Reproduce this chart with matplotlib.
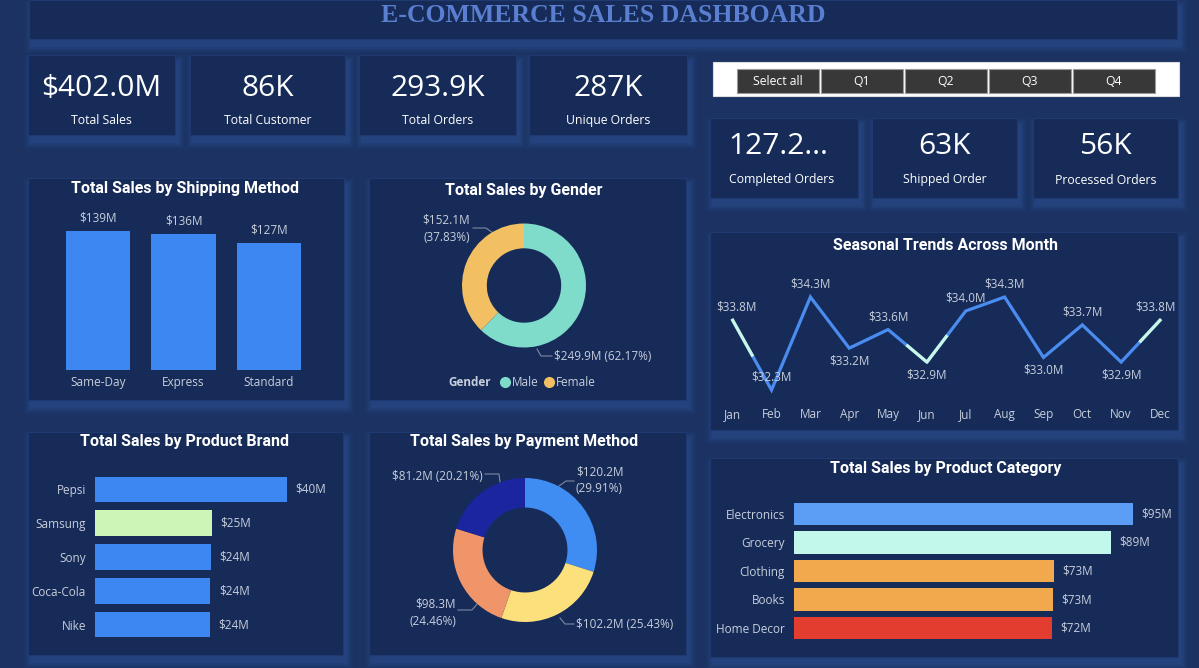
import numpy as np
import matplotlib
matplotlib.use("Agg")
import matplotlib.pyplot as plt
from matplotlib.patches import Rectangle

W, H = 1199, 668
plt.rcParams['font.family'] = ['Open Sans', 'DejaVu Sans']

# ---------------- data ----------------
dashboard_title = "E-COMMERCE SALES DASHBOARD"
kpi_top_values = ["$402.0M", "86K", "293.9K", "287K"]
kpi_top_labels = ["Total Sales", "Total Customer", "Total Orders", "Unique Orders"]
kpi_side_values = ["127.2...", "63K", "56K"]
kpi_side_labels = ["Completed Orders", "Shipped Order", "Processed Orders"]
slicer_options = ["Select all", "Q1", "Q2", "Q3", "Q4"]

shipping_methods = ["Same-Day", "Express", "Standard"]
shipping_sales = [139, 136, 127]

genders = ["Male", "Female"]
gender_sales = [249.93, 152.08]

brands = ["Pepsi", "Samsung", "Sony", "Coca-Cola", "Nike"]
brand_sales = [40.4, 24.6, 24.4, 24.3, 24.2]

payment_sales = [120.24, 102.22, 98.33, 81.24]

months = ["Jan", "Feb", "Mar", "Apr", "May", "Jun",
          "Jul", "Aug", "Sep", "Oct", "Nov", "Dec"]
month_sales = [33.8, 32.3, 34.3, 33.2, 33.6, 32.9, 34.0, 34.3, 33.0, 33.7, 32.9, 33.8]
highlight_months = ["Jan", "Jun", "Dec"]

categories = ["Electronics", "Grocery", "Clothing", "Books", "Home Decor"]
category_sales = [95.2, 89.0, 73.1, 72.8, 72.4]

# ---------------- style ----------------
BG = '#1b3262'
PANEL = '#162b58'
GLOW = '#2c5096'
LBL = '#c8cfdc'
BLUE = '#3d87f2'
BRAND_COLORS = [BLUE, '#cdf5b8', BLUE, BLUE, BLUE]
CAT_COLORS = ['#5c9ef5', '#c2f7ec', '#f2a94e', '#f2a94e', '#e23d2f']
GENDER_COLORS = ['#7fdccb', '#f2c062']
PAY_COLORS = ['#3f8cf2', '#fbe07c', '#f0956a', '#1b25a0']
LINE_BLUE = '#4a8cf0'
MINT = '#c9f7e4'
LEADER = '#7f8aa3'
TITLE_FONT = ['Roboto', 'DejaVu Sans']

fig = plt.figure(figsize=(W / 100, H / 100), dpi=100, facecolor=BG)
bg = fig.add_axes([0, 0, 1, 1])
bg.set_xlim(0, W)
bg.set_ylim(H, 0)
bg.axis('off')


def panel(x0, y0, x1, y1, glow=True):
    if glow:
        for pad, a in [(7, 0.10), (5, 0.15), (3, 0.22), (1, 0.3)]:
            bg.add_patch(Rectangle((x0 - pad + 3, y0 - pad + 7), x1 - x0 + 2 * pad,
                                   y1 - y0 + 2 * pad, facecolor=GLOW, alpha=a,
                                   edgecolor='none'))
    bg.add_patch(Rectangle((x0, y0), x1 - x0, y1 - y0, facecolor=PANEL,
                           edgecolor='#1f3a70', lw=0.8))


def px_axes(x0, y0, x1, y1):
    ax = fig.add_axes([x0 / W, 1 - y1 / H, (x1 - x0) / W, (y1 - y0) / H])
    ax.set_facecolor('none')
    for s in ax.spines.values():
        s.set_visible(False)
    return ax


def title(x, y, s):
    bg.text(x, y, s, ha='center', va='center', color='white', fontsize=11.5,
            fontweight='bold', family=TITLE_FONT)


# ---------------- title bar ----------------
panel(29, 0, 1177, 39)
bg.text(603, 15.5, dashboard_title, ha='center', va='center', color='#5b7fd0',
        fontsize=18.5, fontweight='bold', family=['Liberation Serif', 'DejaVu Serif'])

# ---------------- KPI cards ----------------
top_cards = [(28, 55, 175, 135), (190, 55, 345, 135), (359, 55, 516, 135), (529, 55, 687, 135)]
for (x0, y0, x1, y1), v, l in zip(top_cards, kpi_top_values, kpi_top_labels):
    panel(x0, y0, x1, y1)
    cx = (x0 + x1) / 2
    bg.text(cx, 88, v, ha='center', va='center', color='white', fontsize=21.5)
    bg.text(cx, 120.5, l, ha='center', va='center', color='white', fontsize=8.8)

side_cards = [(710, 118, 858, 198), (872, 118, 1017, 198), (1033, 118, 1178, 198)]
for i, ((x0, y0, x1, y1), v, l) in enumerate(zip(side_cards, kpi_side_values, kpi_side_labels)):
    panel(x0, y0, x1, y1)
    cx = (x0 + x1) / 2
    bg.text(cx - (6 if i == 0 else 0), 147, v, ha='center', va='center', color='white', fontsize=21.5)
    bg.text(cx - (2 if i == 0 else 0), 180, l, ha='center', va='center', color='white', fontsize=8.8)

# ---------------- slicer ----------------
bg.add_patch(Rectangle((712.7, 61.7), 466.6, 34, facecolor='white', edgecolor='#dddddd', lw=0.8))
btn_x0, btn_w, btn_gap = 737, 81.5, 2.5
for i, opt in enumerate(slicer_options):
    bx = btn_x0 + i * (btn_w + btn_gap)
    bg.add_patch(Rectangle((bx, 69), btn_w, 23.7, facecolor='#383838', edgecolor='#9a9a9a', lw=0.8))
    bg.text(bx + btn_w / 2, 81.5, opt, ha='center', va='center', color='white', fontsize=8.8)

# ---------------- chart panels ----------------
panel(28, 178, 344, 400)
panel(369, 178, 686, 400)
panel(28, 432, 343, 655)
panel(369, 432, 686, 655)
panel(710, 232, 1178, 430)
panel(710, 458, 1178, 657)

# Shipping method
title(185.3, 189, "Total Sales by Shipping Method")
ax = px_axes(55.25, 200, 311.75, 370)
xs = np.arange(len(shipping_methods))
ax.bar(xs, shipping_sales, width=0.75, color=BLUE)
ax.set_xlim(-0.5, len(xs) - 0.5)
ax.set_ylim(0, 170)
ax.set_yticks([])
ax.set_xticks(xs, shipping_methods)
ax.tick_params(axis='x', length=0, pad=4, labelcolor=LBL, labelsize=8.5)
for xi, v in zip(xs, shipping_sales):
    ax.annotate(f"${v}M", (xi, v), xytext=(0, 9.2), textcoords='offset points',
                ha='center', va='center', color=LBL, fontsize=8.5)

# Gender donut
title(524, 190.5, "Total Sales by Gender")
ax = px_axes(462, 223.5, 586, 347.5)
ax.pie(gender_sales, colors=GENDER_COLORS, startangle=90, counterclock=False,
       wedgeprops=dict(width=0.40, edgecolor='none'))
ax.set_xlim(-1, 1)
ax.set_ylim(-1, 1)
ax.set_aspect('equal')
g_total = sum(gender_sales)
g_pct = [v / g_total * 100 for v in gender_sales]
# Female label (two lines)
bg.text(446.5, 220, f"${gender_sales[1]:.1f}M", ha='center', va='center', color=LBL, fontsize=8.5)
bg.text(446.5, 237.5, f"({g_pct[1]:.2f}%)", ha='center', va='center', color=LBL, fontsize=8.5)
bg.plot([473, 486, 493], [228, 228, 233], color=LEADER, lw=0.8)
# Male label
bg.text(554, 356, f"${gender_sales[0]:.1f}M ({g_pct[0]:.2f}%)", ha='left', va='center',
        color=LBL, fontsize=8.5)
bg.plot([552, 541, 537], [356, 356, 349], color=LEADER, lw=0.8)
# legend
bg.text(448, 382, "Gender", ha='left', va='center', color=LBL, fontsize=8.5, fontweight='bold')
bg.plot([505], [382], 'o', ms=7, color=GENDER_COLORS[0])
bg.text(511.5, 382, genders[0], ha='left', va='center', color=LBL, fontsize=8.5)
bg.plot([549], [382], 'o', ms=7, color=GENDER_COLORS[1])
bg.text(555.5, 382, genders[1], ha='left', va='center', color=LBL, fontsize=8.5)

# Product brand
title(185, 441.5, "Total Sales by Product Brand")
ax = px_axes(95, 472.6, 335, 641.4)
ys = np.arange(len(brands))
ax.barh(ys, brand_sales, height=0.76, color=BRAND_COLORS)
ax.set_ylim(len(brands) - 0.5, -0.5)
ax.set_xlim(0, 50.5)
ax.set_xticks([])
ax.set_yticks(ys, brands)
ax.tick_params(axis='y', length=0, pad=6.5, labelcolor=LBL, labelsize=8.5)
for yi, v in zip(ys, brand_sales):
    ax.annotate(f"${v:.0f}M", (v, yi), xytext=(6, 0), textcoords='offset points',
                ha='left', va='center', color=LBL, fontsize=8.5)

# Payment donut
title(524, 441.5, "Total Sales by Payment Method")
ax = px_axes(453, 478, 597, 622)
ax.pie(payment_sales, colors=PAY_COLORS, startangle=90, counterclock=False,
       wedgeprops=dict(width=0.41, edgecolor='none'))
ax.set_xlim(-1, 1)
ax.set_ylim(-1, 1)
ax.set_aspect('equal')
p_total = sum(payment_sales)
p_txt = [(f"${v:.1f}M", f"({v / p_total * 100:.2f}%)") for v in payment_sales]
bg.text(576, 472, p_txt[0][0], ha='left', va='center', color=LBL, fontsize=8.5)
bg.text(576, 488.5, p_txt[0][1], ha='left', va='center', color=LBL, fontsize=8.5)
bg.plot([574, 566, 559], [481, 481, 486], color=LEADER, lw=0.8)
bg.text(576, 624.5, p_txt[1][0] + " " + p_txt[1][1], ha='left', va='center', color=LBL, fontsize=8.5)
bg.plot([574, 565, 560], [624, 624, 618], color=LEADER, lw=0.8)
bg.text(456, 604, p_txt[2][0], ha='right', va='center', color=LBL, fontsize=8.5)
bg.text(456, 621.5, p_txt[2][1], ha='right', va='center', color=LBL, fontsize=8.5)
bg.plot([458, 472, 478], [610, 610, 603], color=LEADER, lw=0.8)
bg.text(483, 477, p_txt[3][0] + " " + p_txt[3][1], ha='right', va='center', color=LBL, fontsize=8.5)
bg.plot([485, 499, 500], [474, 474, 482], color=LEADER, lw=0.8)

# Seasonal trend line
title(945.5, 245, "Seasonal Trends Across Month")
ax = px_axes(732.7, 262, 1160, 400)
xm = np.arange(len(months))
ys_m = np.array(month_sales)
ax.plot(xm, ys_m, color=LINE_BLUE, lw=2.3, clip_on=False, zorder=2,
        solid_joinstyle='miter')
for m in highlight_months:
    i = months.index(m)
    sx, sy = [], []
    if i > 0:
        sx.append((xm[i - 1] + xm[i]) / 2); sy.append((ys_m[i - 1] + ys_m[i]) / 2)
    sx.append(xm[i]); sy.append(ys_m[i])
    if i < len(xm) - 1:
        sx.append((xm[i + 1] + xm[i]) / 2); sy.append((ys_m[i + 1] + ys_m[i]) / 2)
    ax.plot(sx, sy, color=MINT, lw=2.3, clip_on=False, zorder=3)
ax.set_xlim(0, len(months) - 1)
ax.set_ylim(32.085, 35.053)
ax.set_yticks([])
ax.set_xticks(xm, months)
ax.tick_params(axis='x', length=0, pad=6, labelcolor=LBL, labelsize=8.5)
label_side = [1, 1, 1, -1, 1, -1, 1, 1, -1, 1, -1, 1]
label_dx = [3, 0, 0, 0, 0, 0, 0, 0, 0, 0, 0, -3]
for xi, v, s, dx in zip(xm, ys_m, label_side, label_dx):
    ax.annotate(f"${v:.1f}M", (xi, v), xytext=(dx, 9.3 * s), textcoords='offset points',
                ha='center', va='center', color=LBL, fontsize=8.5, zorder=4)

# Product category
title(946, 469, "Total Sales by Product Category")
ax = px_axes(794, 499.75, 1175, 642.25)
yc = np.arange(len(categories))
ax.barh(yc, category_sales, height=0.78, color=CAT_COLORS)
ax.set_ylim(len(categories) - 0.5, -0.5)
ax.set_xlim(0, 107.1)
ax.set_xticks([])
ax.set_yticks(yc, categories)
ax.tick_params(axis='y', length=0, pad=6.5, labelcolor=LBL, labelsize=8.5)
for yi, v in zip(yc, category_sales):
    ax.annotate(f"${v:.0f}M", (v, yi), xytext=(6, 0), textcoords='offset points',
                ha='left', va='center', color=LBL, fontsize=8.5)

fig.savefig("out.png", dpi=100, facecolor=BG)
